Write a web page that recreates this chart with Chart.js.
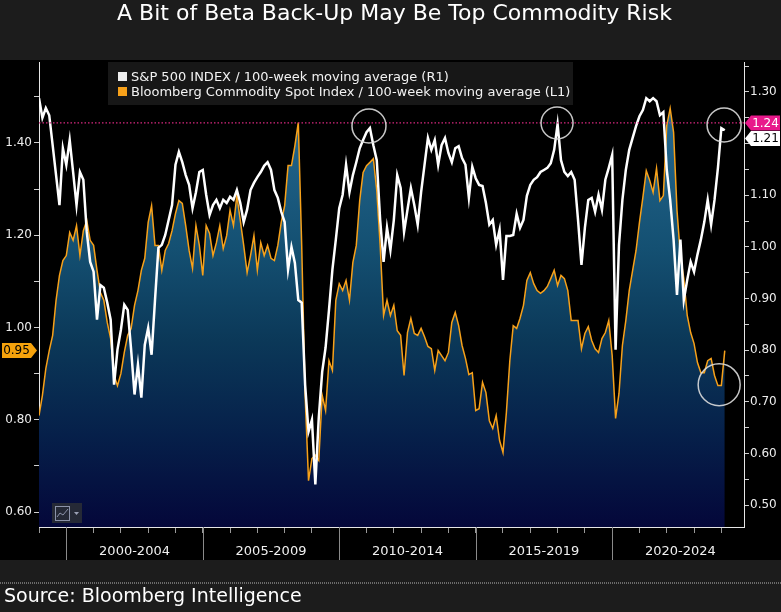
<!DOCTYPE html>
<html>
<head>
<meta charset="utf-8">
<script src="https://cdn.jsdelivr.net/npm/chart.js@4.4.1/dist/chart.umd.min.js"></script>
<style>
  html, body { margin: 0; padding: 0; background: #1c1c1c; }
  #wrap { position: relative; width: 781px; height: 612px; }
</style>
</head>
<body>
<div id="wrap"><canvas id="chart" width="781" height="612"></canvas></div>
<script>
const startYear = 1999.0;
const stepYears = 1 / 8;

// S&P 500 / 100-week moving average (right axis)
const spxRatio = [
  1.288, 1.250, 1.269, 1.255, 1.197, 1.139, 1.081, 1.191, 1.159, 1.207,
  1.145, 1.081, 1.145, 1.130, 1.029, 0.971, 0.952, 0.859, 0.926, 0.921,
  0.892, 0.859, 0.733, 0.801, 0.839, 0.888, 0.878, 0.801, 0.714, 0.772,
  0.708, 0.810, 0.843, 0.791, 0.897, 0.998, 1.004, 1.023, 1.052, 1.081,
  1.159, 1.184, 1.164, 1.139, 1.120, 1.075, 1.106, 1.145, 1.149, 1.101,
  1.062, 1.081, 1.091, 1.075, 1.091, 1.085, 1.097, 1.091, 1.110, 1.085,
  1.048, 1.072, 1.110, 1.124, 1.135, 1.145, 1.157, 1.164, 1.149, 1.110,
  1.095, 1.068, 1.048, 0.956, 1.000, 0.969, 0.897, 0.892, 0.733, 0.642,
  0.665, 0.540, 0.669, 0.758, 0.805, 0.878, 0.956, 1.014, 1.075, 1.101,
  1.159, 1.106, 1.139, 1.164, 1.191, 1.207, 1.222, 1.230, 1.197, 1.168,
  1.052, 0.971, 1.037, 0.994, 1.052, 1.139, 1.114, 1.029, 1.072, 1.114,
  1.081, 1.043, 1.106, 1.159, 1.211, 1.188, 1.207, 1.159, 1.197, 1.211,
  1.182, 1.164, 1.191, 1.195, 1.172, 1.159, 1.095, 1.155, 1.133, 1.120,
  1.118, 1.085, 1.043, 1.052, 1.004, 1.033, 0.936, 1.021, 1.021, 1.023,
  1.064, 1.037, 1.052, 1.099, 1.120, 1.130, 1.135, 1.145, 1.149, 1.153,
  1.162, 1.188, 1.238, 1.168, 1.145, 1.137, 1.145, 1.130, 1.052, 0.965,
  1.037, 1.091, 1.095, 1.068, 1.101, 1.072, 1.130, 1.153, 1.178, 0.801,
  1.004, 1.091, 1.149, 1.188, 1.211, 1.234, 1.253, 1.265, 1.288, 1.282,
  1.288, 1.282, 1.255, 1.261, 1.149, 1.091, 1.014, 0.907, 1.014, 0.897,
  0.936, 0.971, 0.952, 0.985, 1.014, 1.048, 1.091, 1.043, 1.091, 1.153,
  1.230, 1.226
];

// Bloomberg Commodity Spot Index / 100-week moving average (left axis)
const bcomRatio = [
  0.809, 0.853, 0.911, 0.950, 0.983, 1.059, 1.113, 1.145, 1.156, 1.206,
  1.189, 1.221, 1.156, 1.210, 1.232, 1.189, 1.178, 1.124, 1.076, 1.059,
  1.011, 0.976, 0.896, 0.874, 0.900, 0.946, 0.983, 0.998, 1.048, 1.080,
  1.124, 1.150, 1.228, 1.264, 1.178, 1.178, 1.124, 1.167, 1.182, 1.210,
  1.247, 1.275, 1.269, 1.221, 1.167, 1.128, 1.221, 1.178, 1.113, 1.221,
  1.204, 1.156, 1.184, 1.221, 1.171, 1.199, 1.254, 1.221, 1.286, 1.232,
  1.178, 1.119, 1.156, 1.199, 1.124, 1.184, 1.156, 1.178, 1.150, 1.145,
  1.178, 1.228, 1.264, 1.351, 1.351, 1.394, 1.444, 1.178, 0.853, 0.668,
  0.716, 0.723, 0.712, 0.853, 0.820, 0.928, 0.907, 1.059, 1.095, 1.080,
  1.102, 1.059, 1.141, 1.178, 1.275, 1.336, 1.351, 1.358, 1.366, 1.297,
  1.178, 1.026, 1.059, 1.026, 1.048, 0.993, 0.983, 0.896, 0.989, 1.020,
  0.987, 0.983, 0.998, 0.980, 0.959, 0.954, 0.907, 0.950, 0.939, 0.928,
  0.946, 1.011, 1.033, 1.004, 0.961, 0.933, 0.898, 0.902, 0.820, 0.824,
  0.881, 0.859, 0.798, 0.781, 0.809, 0.755, 0.729, 0.816, 0.928, 1.004,
  0.998, 1.020, 1.048, 1.102, 1.119, 1.095, 1.080, 1.074, 1.080, 1.089,
  1.106, 1.124, 1.091, 1.113, 1.106, 1.080, 1.015, 1.015, 1.015, 0.954,
  0.987, 1.002, 0.972, 0.954, 0.946, 0.976, 0.989, 1.015, 0.939, 0.803,
  0.857, 0.961, 1.015, 1.080, 1.124, 1.167, 1.228, 1.282, 1.340, 1.319,
  1.293, 1.345, 1.275, 1.286, 1.438, 1.475, 1.423, 1.254, 1.156, 1.106,
  1.026, 0.989, 0.965, 0.924, 0.902, 0.902, 0.928, 0.933, 0.896, 0.874,
  0.874, 0.950
];

const seriesLabels = [
  'S&P 500 INDEX / 100-week moving average (R1)',
  'Bloomberg Commodity Spot Index / 100-week moving average (L1)'
];

const periodLabels = ['2000-2004', '2005-2009', '2010-2014', '2015-2019', '2020-2024'];
const periodStarts = [2000, 2005, 2010, 2015, 2020];

const xRange = [1999.0, 2024.83];
const leftRange = [0.5675, 1.5756];
const rightRange = [0.4574, 1.3581];

const refLevel = 1.24;   // dotted line on the right axis
const lastSpx = 1.21;
const lastBcom = 0.95;

// highlighted spots
const circleYears = [2011.09, 2017.98, 2024.10, 2023.92];
const circleValues = [1.234, 1.240, 1.236, 0.876];
const circleAxes = ['yR', 'yR', 'yR', 'yL'];
const circleRadii = [17, 16, 17, 21];

const toPoints = (vals) => vals.map((v, i) => ({ x: startYear + i * stepYears, y: v }));

const fillGradient = (context) => {
  const chart = context.chart;
  const area = chart.chartArea;
  if (!area) return '#0b3858';
  const g = chart.ctx.createLinearGradient(0, area.top, 0, area.bottom);
  g.addColorStop(0, '#29709a');
  g.addColorStop(0.4, '#145072');
  g.addColorStop(0.6, '#0b3858');
  g.addColorStop(0.8, '#06204a');
  g.addColorStop(1, '#04073a');
  return g;
};

function drawBadge(ctx, tipX, y, dir, bg, fg, text) {
  const h = 15, tip = 6, w = 29;
  const s = dir === 'right' ? -1 : 1;
  ctx.beginPath();
  ctx.moveTo(tipX, y);
  ctx.lineTo(tipX + s * tip, y - h / 2);
  ctx.lineTo(tipX + s * (tip + w), y - h / 2);
  ctx.lineTo(tipX + s * (tip + w), y + h / 2);
  ctx.lineTo(tipX + s * tip, y + h / 2);
  ctx.closePath();
  ctx.fillStyle = bg;
  ctx.fill();
  ctx.fillStyle = fg;
  ctx.font = '12px "DejaVu Sans"';
  ctx.textAlign = 'center';
  ctx.textBaseline = 'middle';
  ctx.fillText(text, tipX + s * (tip + w / 2), y + 0.5);
}

const decorations = {
  id: 'decorations',
  beforeDraw(chart) {
    const { ctx, width, height } = chart;
    ctx.save();
    ctx.fillStyle = '#1c1c1c';
    ctx.fillRect(0, 0, width, height);
    ctx.fillStyle = '#000000';
    ctx.fillRect(0, 60, width, 500);
    // dotted rule above the source line
    ctx.strokeStyle = '#6a6a6a';
    ctx.setLineDash([1, 1]);
    ctx.lineWidth = 2;
    ctx.beginPath();
    ctx.moveTo(0, 583);
    ctx.lineTo(width, 583);
    ctx.stroke();
    ctx.restore();
  },
  afterDatasetsDraw(chart) {
    const { ctx, chartArea: a, scales } = chart;
    ctx.save();
    // reference level
    const yRef = scales.yR.getPixelForValue(refLevel);
    ctx.strokeStyle = '#d8287f';
    ctx.lineWidth = 1.3;
    ctx.setLineDash([1.5, 2]);
    ctx.beginPath();
    ctx.moveTo(a.left, yRef);
    ctx.lineTo(a.right, yRef);
    ctx.stroke();
    ctx.setLineDash([]);
    // circles
    ctx.strokeStyle = 'rgba(220,220,220,0.9)';
    ctx.lineWidth = 1.5;
    circleYears.forEach((yr, i) => {
      const cx = scales.x.getPixelForValue(yr);
      const cy = scales[circleAxes[i]].getPixelForValue(circleValues[i]);
      ctx.beginPath();
      ctx.arc(cx, cy, circleRadii[i], 0, Math.PI * 2);
      ctx.stroke();
    });
    ctx.restore();
  },
  afterDraw(chart) {
    const { ctx, chartArea: a, scales, width } = chart;
    ctx.save();

    // title
    ctx.fillStyle = '#ffffff';
    ctx.font = '22px "DejaVu Sans"';
    ctx.textAlign = 'center';
    ctx.textBaseline = 'middle';
    ctx.fillText('A Bit of Beta Back-Up May Be Top Commodity Risk', width / 2 + 4, 14);

    // legend
    ctx.fillStyle = '#171717';
    ctx.fillRect(108, 62, 465, 43);
    const colors = chart.data.datasets.map(d => d.borderColor);
    ctx.font = '13px "DejaVu Sans"';
    ctx.textAlign = 'left';
    ctx.textBaseline = 'alphabetic';
    seriesLabels.forEach((label, i) => {
      const y = 81 + i * 15;
      ctx.fillStyle = i === 0 ? '#eeeeee' : colors[i];
      ctx.fillRect(118, y - 9, 9, 9);
      ctx.fillStyle = '#f2f2f2';
      ctx.fillText(label, 131, y);
    });

    // period separators and labels
    ctx.strokeStyle = '#8a8a8a';
    ctx.lineWidth = 1;
    ctx.font = '13px "DejaVu Sans"';
    ctx.textAlign = 'center';
    ctx.textBaseline = 'middle';
    periodStarts.forEach((yr, i) => {
      const x = Math.round(scales.x.getPixelForValue(yr)) + 0.5;
      ctx.beginPath();
      ctx.moveTo(x, a.bottom);
      ctx.lineTo(x, 560);
      ctx.stroke();
      ctx.fillStyle = '#f0f0f0';
      ctx.fillText(periodLabels[i], scales.x.getPixelForValue(yr + 2.5), 552);
    });

    // last value badges
    drawBadge(ctx, a.left - 2, scales.yL.getPixelForValue(lastBcom), 'right', '#f5a20c', '#000000', lastBcom.toFixed(2));
    drawBadge(ctx, a.right + 1, scales.yR.getPixelForValue(refLevel), 'left', '#e8198b', '#ffffff', refLevel.toFixed(2));
    drawBadge(ctx, a.right + 1, scales.yR.getPixelForValue(lastSpx), 'left', '#ffffff', '#000000', lastSpx.toFixed(2));

    // small chart-type icon
    ctx.fillStyle = '#252936';
    ctx.fillRect(52, 503, 30, 20);
    ctx.strokeStyle = '#8c93aa';
    ctx.lineWidth = 1;
    ctx.strokeRect(55.5, 506.5, 14, 14);
    ctx.beginPath();
    ctx.moveTo(57, 517);
    ctx.lineTo(60, 513);
    ctx.lineTo(63, 515);
    ctx.lineTo(68, 509);
    ctx.stroke();
    ctx.fillStyle = '#9aa0b4';
    ctx.beginPath();
    ctx.moveTo(74, 512);
    ctx.lineTo(79, 512);
    ctx.lineTo(76.5, 515);
    ctx.closePath();
    ctx.fill();

    // source
    ctx.fillStyle = '#ffffff';
    ctx.font = '19px "DejaVu Sans"';
    ctx.textAlign = 'left';
    ctx.textBaseline = 'middle';
    ctx.fillText('Source: Bloomberg Intelligence', 4, 597);

    ctx.restore();
  }
};

const tickFont = { family: 'DejaVu Sans', size: 12 };
const hidden = (v, keep) => keep ? v.toFixed(2) : '';

new Chart(document.getElementById('chart'), {
  type: 'line',
  data: {
    datasets: [
      {
        label: seriesLabels[0],
        data: toPoints(spxRatio),
        yAxisID: 'yR',
        borderColor: '#ffffff',
        borderWidth: 2.5,
        pointRadius: 0,
        fill: false,
        tension: 0
      },
      {
        label: seriesLabels[1],
        data: toPoints(bcomRatio),
        yAxisID: 'yL',
        borderColor: '#f7a11a',
        borderWidth: 1.5,
        pointRadius: 0,
        fill: 'start',
        backgroundColor: fillGradient,
        tension: 0
      }
    ]
  },
  options: {
    responsive: false,
    devicePixelRatio: 1,
    animation: false,
    layout: { padding: { top: 62, left: 0, right: 0, bottom: 0 } },
    plugins: {
      legend: { display: false },
      title: { display: false },
      tooltip: { enabled: false }
    },
    scales: {
      x: {
        type: 'linear',
        min: xRange[0],
        max: xRange[1],
        afterFit: (s) => { s.height = 85; },
        ticks: { stepSize: 1, autoSkip: false, includeBounds: false, maxRotation: 0, callback: () => '' },
        grid: { drawOnChartArea: false, drawTicks: true, tickLength: 6, color: '#9a9a9a' },
        border: { display: true, color: '#e6e6e6', width: 1 }
      },
      yL: {
        type: 'linear',
        position: 'left',
        min: leftRange[0],
        max: leftRange[1],
        afterFit: (s) => { s.width = 39; },
        ticks: {
          stepSize: 0.1, autoSkip: false, includeBounds: false, padding: 2,
          color: '#ececec', font: tickFont,
          callback: (v) => hidden(v, Math.round(v * 10) % 2 === 0 && v < 1.45)
        },
        grid: { drawOnChartArea: false, drawTicks: true, tickLength: 5, color: '#d0d0d0' },
        border: { display: true, color: '#e6e6e6', width: 1 }
      },
      yR: {
        type: 'linear',
        position: 'right',
        min: rightRange[0],
        max: rightRange[1],
        afterFit: (s) => { s.width = 37; },
        ticks: {
          stepSize: 0.05, autoSkip: false, includeBounds: false, padding: 1,
          color: '#ececec', font: tickFont,
          callback: (v) => hidden(v, Math.round(v * 100) % 10 === 0 && Math.abs(v - 1.2) > 0.01)
        },
        grid: { drawOnChartArea: false, drawTicks: true, tickLength: 5, color: '#d0d0d0' },
        border: { display: true, color: '#e6e6e6', width: 1 }
      }
    }
  },
  plugins: [decorations]
});
</script>
</body>
</html>
